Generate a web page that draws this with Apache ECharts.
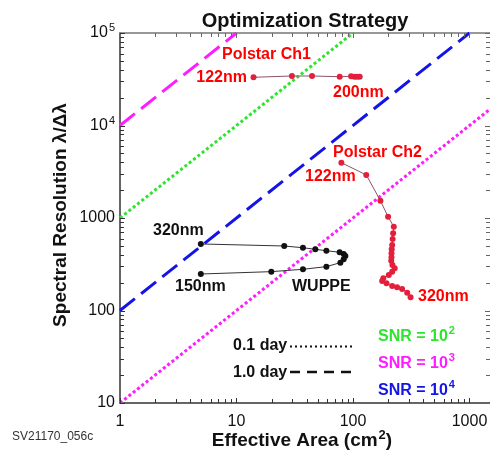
<!DOCTYPE html>
<html>
<head>
<meta charset="utf-8">
<script src="https://cdn.jsdelivr.net/npm/echarts@6/dist/echarts.min.js"></script>
<style>
html,body{margin:0;padding:0;background:#fff;}
#chart{width:490px;height:454px;}
</style>
</head>
<body>
<div id="chart"></div>
<script>
// ---------- data ----------
const xTickValues = [1, 10, 100, 1000];
const xTickLabels = ['1', '10', '100', '1000'];
const yTickValues = [10, 100, 1000, 10000, 100000];
const yTickLabels = ['10', '100', '1000', '{n|10}{s|4}', '{n|10}{s|5}'];
const xMinorTicks = [2,3,4,5,6,7,8,9,20,30,40,50,60,70,80,90,200,300,400,500,600,700,800,900];
const yMinorTicks = [20,30,40,50,60,70,80,90,200,300,400,500,600,700,800,900,
  2000,3000,4000,5000,6000,7000,8000,9000,20000,30000,40000,50000,60000,70000,80000,90000];

// SNR lines (Effective Area, Spectral Resolution)
const snr2_01day = [[1, 1000], [100, 100000]];      // green dotted
const snr3_1day  = [[1, 10000], [10, 100000]];      // magenta dashed
const snr4_1day  = [[1, 100], [1000, 100000]];      // blue dashed
const snr3_01day = [[1, 10], [1500, 15000]];        // magenta dotted

const polstarCh1 = [[14.0,33200],[29.9,34300],[44.5,34300],[76.9,33700],[96.3,34000],[102.8,33700],[108.4,33700],[114.2,33700]];
const polstarCh2 = [[79.5,3960],[130,2920],[172,1540],[200,1030],[224,805],[221,683],[219,593],[217,511],[215,459],[214,415],[214,376],[213,345],[218,310],[228,286],[217,263],[203,242],[182,223],[178,208],[194,197],[217,184],[239,178],[264,171],[292,156],[312,139]];
const wuppe = [[4.94,248],[19.9,263],[37.2,279],[59.1,298],[77.9,329],[83.2,358],[86.0,388],[83.2,408],[76.8,426],[59.1,443],[47.5,459],[37.2,477],[25.7,498],[4.94,524]];

const X_MIN = 1, X_MAX = 1500, Y_MIN = 10, Y_MAX = 100000;

// ---------- styles ----------
const FF = '"Liberation Sans", Arial, sans-serif';
const GREEN = '#2ee52e', MAGENTA = '#ff1cff', BLUE = '#1414e6', RED = '#ff0000';

function lookup(vals, labels, v) {
  const lv = Math.log10(v);
  for (let i = 0; i < vals.length; i++) {
    if (Math.abs(Math.log10(vals[i]) - lv) < 1e-6) return labels[i];
  }
  return '';
}

function tickRenderer(isX) {
  return function (params, api) {
    const v = api.value(isX ? 0 : 1);
    const major = api.value(2);
    const len = major ? 5 : 4;
    if (isX) {
      const pb = api.coord([v, Y_MIN]);
      const pt = api.coord([v, Y_MAX]);
      const x = Math.round(pb[0]) + 0.5;
      return {type: 'group', children: [
        {type: 'line', shape: {x1: x, y1: pb[1], x2: x, y2: pb[1] - len}, style: {stroke: '#333', lineWidth: 1}},
        {type: 'line', shape: {x1: x, y1: pt[1], x2: x, y2: pt[1] + len}, style: {stroke: '#666', lineWidth: 1}}
      ]};
    } else {
      const pl = api.coord([X_MIN, v]);
      const pr = api.coord([X_MAX, v]);
      const y = Math.round(pl[1]) + 0.5;
      return {type: 'group', children: [
        {type: 'line', shape: {x1: pl[0], y1: y, x2: pl[0] + len, y2: y}, style: {stroke: '#333', lineWidth: 1}},
        {type: 'line', shape: {x1: pr[0], y1: y, x2: pr[0] - len, y2: y}, style: {stroke: '#666', lineWidth: 1}}
      ]};
    }
  };
}

const xTickData = xTickValues.map(v => [v, Y_MIN, 1]).concat(xMinorTicks.map(v => [v, Y_MIN, 0]));
const yTickData = yTickValues.map(v => [X_MIN, v, 1]).concat(yMinorTicks.map(v => [X_MIN, v, 0]));

function lineSeries(data, color, dash, width) {
  return {type: 'line', data: data, symbol: 'none', silent: true, clip: true, z: 2,
    lineStyle: {color: color, width: width, type: dash, cap: 'butt'}, animation: false};
}

function supRich(size, fill, weight, raise) {
  const sf = Math.round(size * 0.68);
  const r = raise - size / 2 + sf / 2;
  return {
    n: {fontSize: size, fontWeight: weight, fontFamily: FF, fill: fill, color: fill, lineHeight: size + 2 * r, verticalAlign: 'middle'},
    s: {fontSize: sf, fontWeight: weight, fontFamily: FF, fill: fill, color: fill, lineHeight: sf, verticalAlign: 'top', padding: [0, 0, 0, 1]}
  };
}

function txt(text, x, y, fill, size, opts) {
  opts = opts || {};
  const w = opts.weight || 'bold';
  return {type: 'text', x: x, y: y, silent: true, z: 100, rotation: opts.rotation || 0,
    style: {text: text, fill: fill, font: w + ' ' + size + 'px ' + FF,
      align: opts.align || 'left', verticalAlign: 'middle',
      rich: supRich(size, fill, w, 6)}};
}

const chart = echarts.init(document.getElementById('chart'), null, {renderer: 'canvas'});
const option = {
  animation: false,
  backgroundColor: '#fff',
  grid: {left: 120, right: 0, top: 33, bottom: 51, containLabel: false, outerBoundsMode: 'none'},
  xAxis: [
    {type: 'log', logBase: 10, min: X_MIN, max: X_MAX, position: 'bottom',
      axisLine: {show: true, lineStyle: {color: '#333', width: 1.5}},
      axisTick: {show: false}, splitLine: {show: false}, minorTick: {show: false},
      axisLabel: {show: true, margin: 11, color: '#111', fontSize: 16, fontFamily: FF, showMinLabel: true, showMaxLabel: true,
        formatter: v => lookup(xTickValues, xTickLabels, v)}},
    {type: 'log', logBase: 10, min: X_MIN, max: X_MAX, position: 'top',
      axisLine: {show: true, lineStyle: {color: '#777', width: 1.5}},
      axisTick: {show: false}, splitLine: {show: false}, axisLabel: {show: false}}
  ],
  yAxis: [
    {type: 'log', logBase: 10, min: Y_MIN, max: Y_MAX, position: 'left',
      axisLine: {show: true, lineStyle: {color: '#333', width: 1.5}},
      axisTick: {show: false}, splitLine: {show: false}, minorTick: {show: false},
      axisLabel: {show: true, margin: 5, color: '#111', fontSize: 16, fontFamily: FF, showMinLabel: true, showMaxLabel: true,
        formatter: v => lookup(yTickValues, yTickLabels, v),
        rich: supRich(16, '#111', 'normal', 5)}},
    {type: 'log', logBase: 10, min: Y_MIN, max: Y_MAX, position: 'right',
      axisLine: {show: true, lineStyle: {color: '#888', width: 1}},
      axisTick: {show: false}, splitLine: {show: false}, axisLabel: {show: false}}
  ],
  series: [
    {type: 'custom', renderItem: tickRenderer(true), data: xTickData, clip: false, silent: true, z: 5, encode: {x: 0, y: 1}},
    {type: 'custom', renderItem: tickRenderer(false), data: yTickData, clip: false, silent: true, z: 5, encode: {x: 0, y: 1}},
    lineSeries(snr3_01day, MAGENTA, [3, 2.5], 3),
    lineSeries(snr2_01day, GREEN, [3, 2.5], 3),
    lineSeries(snr4_1day, BLUE, [19, 8], 3),
    lineSeries(snr3_1day, MAGENTA, [19, 8], 3),
    {type: 'line', data: wuppe, symbol: 'circle', symbolSize: 6, z: 10,
      itemStyle: {color: '#111'}, lineStyle: {color: '#333', width: 1}},
    {type: 'line', data: polstarCh1, symbol: 'circle', symbolSize: 6, z: 10,
      itemStyle: {color: '#e3203c'}, lineStyle: {color: '#8a5468', width: 1}},
    {type: 'line', data: polstarCh2, symbol: 'circle', symbolSize: 6, z: 10,
      itemStyle: {color: '#e3203c'}, lineStyle: {color: '#8a5468', width: 1}}
  ],
  graphic: [
    txt('Optimization Strategy', 305, 21, '#111', 20, {align: 'center'}),
    txt('Spectral Resolution λ/Δλ', 61, 215, '#111', 19, {align: 'center', rotation: Math.PI / 2}),
    txt('{n|Effective Area (cm}{s|2}{n|)}', 302, 441, '#111', 19, {align: 'center'}),
    txt('SV21170_056c', 12, 437, '#333', 12, {weight: 'normal'}),
    txt('Polstar Ch1', 222, 55, RED, 16),
    txt('122nm', 247, 78, RED, 16, {align: 'right'}),
    txt('200nm', 333, 92.5, RED, 16),
    txt('Polstar Ch2', 333, 152.5, RED, 16),
    txt('122nm', 305, 177, RED, 16),
    txt('320nm', 418, 297, RED, 16),
    txt('320nm', 153, 231, '#111', 16),
    txt('150nm', 175, 287, '#111', 16),
    txt('WUPPE', 292, 287, '#111', 16),
    txt('0.1 day', 233, 346, '#111', 16),
    txt('1.0 day', 233, 373, '#111', 16),
    {type: 'line', silent: true, shape: {x1: 290, y1: 346.5, x2: 352, y2: 346.5}, style: {stroke: '#111', lineWidth: 2, lineDash: [2, 3]}},
    {type: 'line', silent: true, shape: {x1: 290, y1: 372, x2: 352, y2: 372}, style: {stroke: '#111', lineWidth: 2.5, lineDash: [10, 7]}},
    txt('{n|SNR = 10}{s|2}', 378, 337, GREEN, 16),
    txt('{n|SNR = 10}{s|3}', 378, 364, MAGENTA, 16),
    txt('{n|SNR = 10}{s|4}', 378, 391, BLUE, 16)
  ]
};
chart.setOption(option);
</script>
</body>
</html>
